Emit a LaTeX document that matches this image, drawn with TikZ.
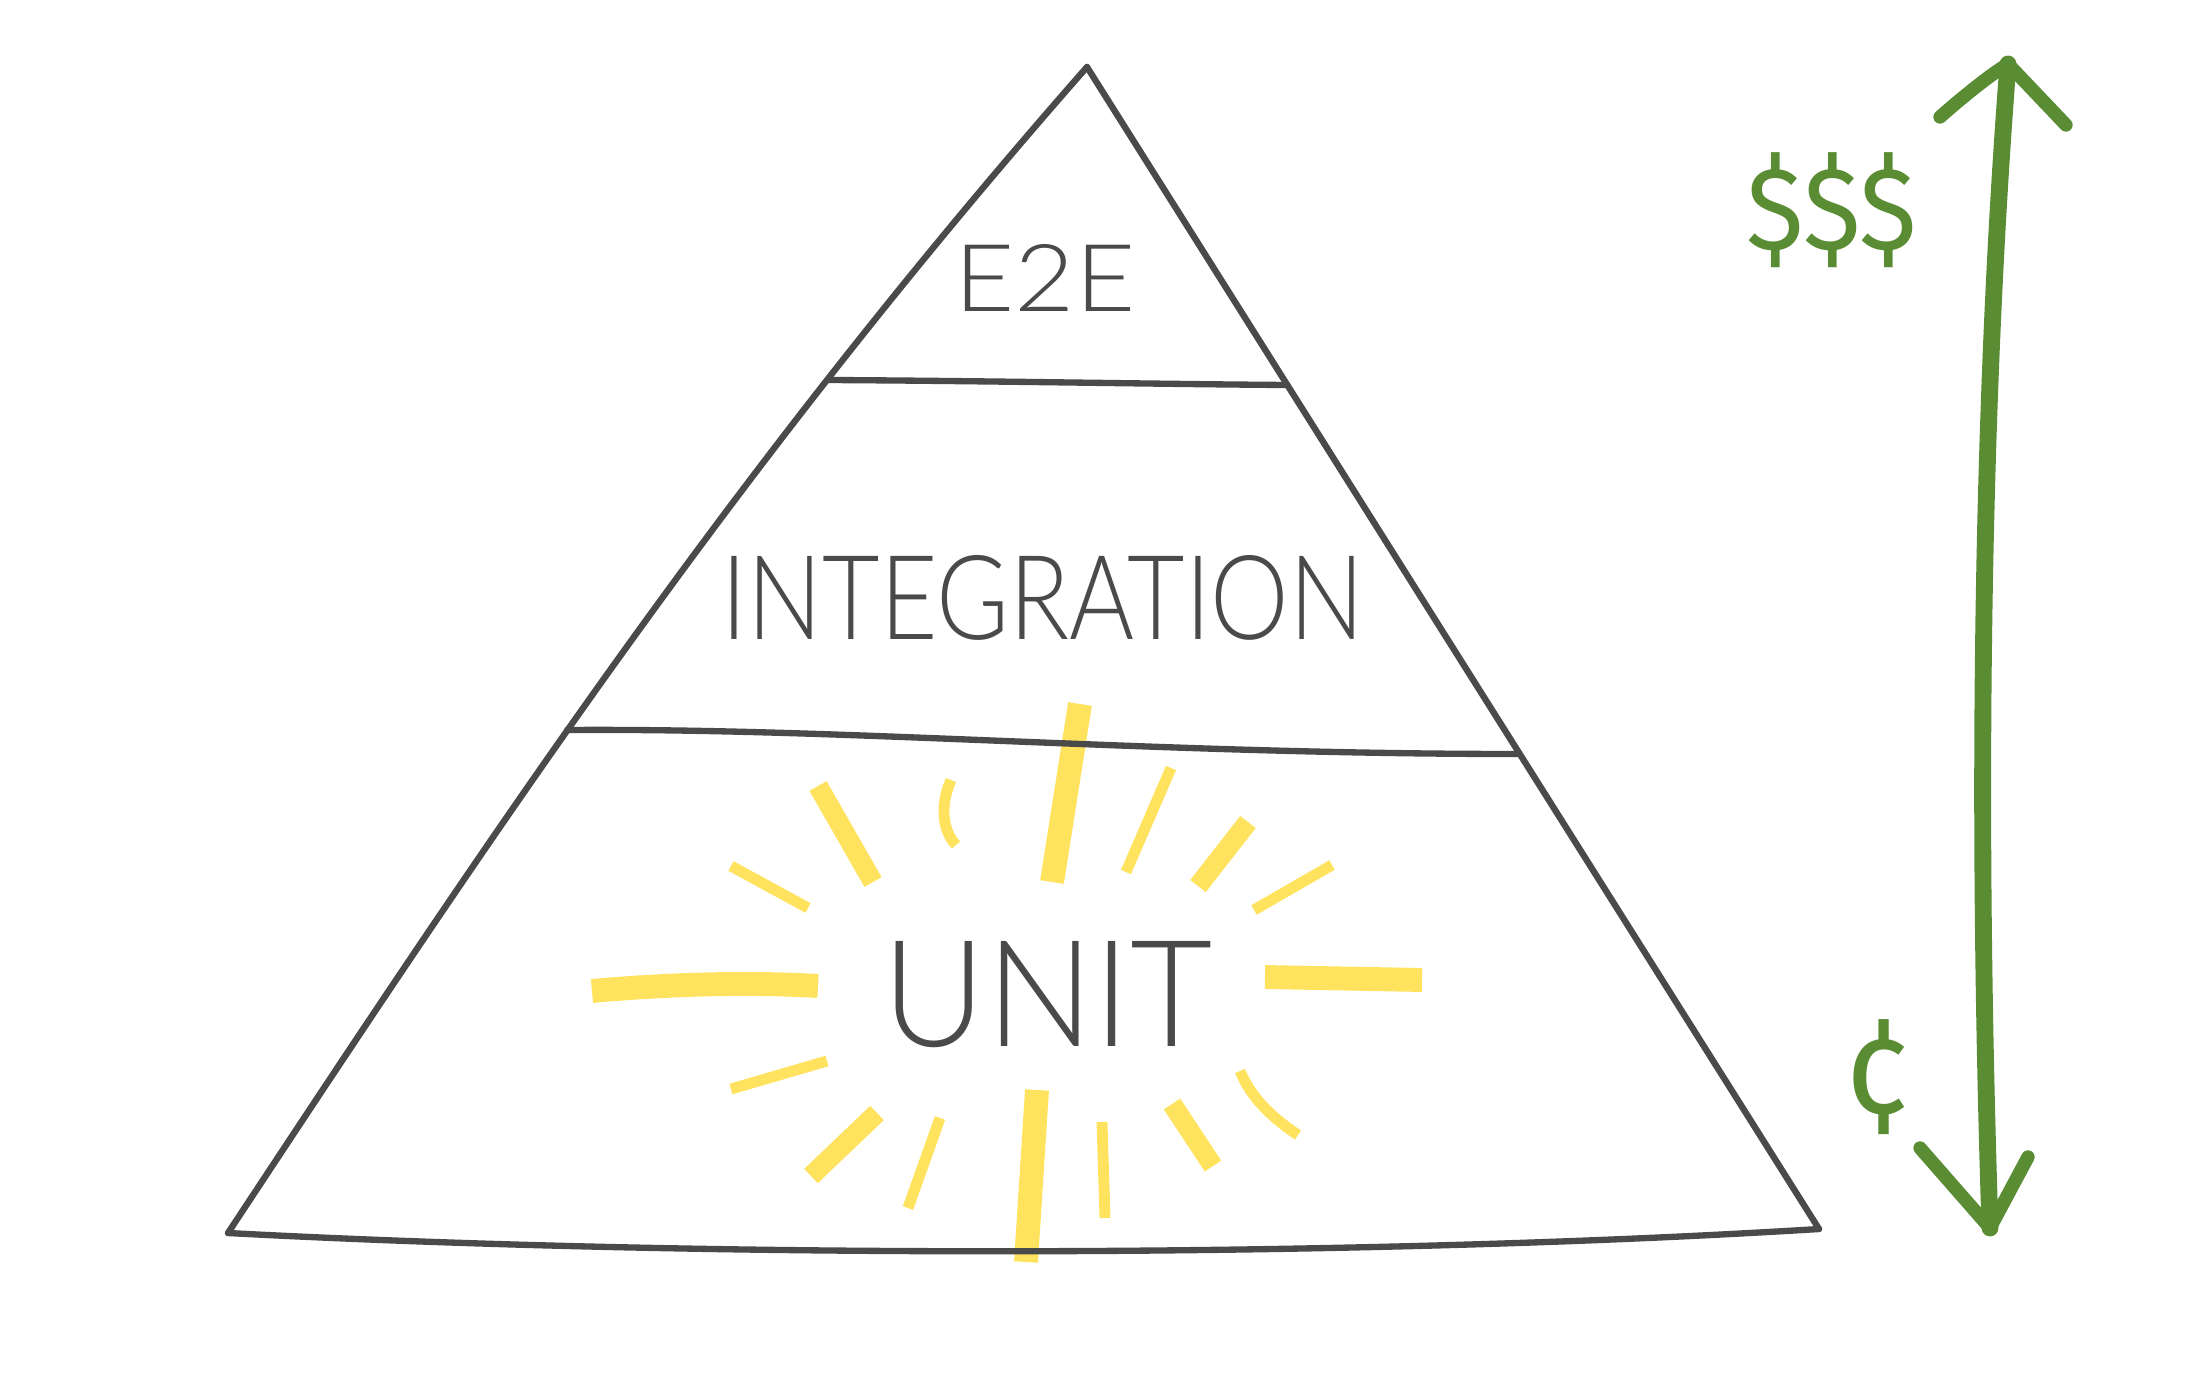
\documentclass[tikz,border=0pt]{standalone}
\usepackage{fontspec}
\usepackage{graphicx}
\IfFontExistsTF{Lato Light}
  {\newfontfamily\hand{Lato Light}}
  {\IfFontExistsTF{Open Sans Light}
    {\newfontfamily\hand{Open Sans Light}}
    {\newfontfamily\hand{Fira Sans}}}
\newfontfamily\coin{Fira Sans}
\definecolor{inkgray}{HTML}{4A4A4A}
\definecolor{sun}{HTML}{FFE35E}
\definecolor{leaf}{HTML}{5A8C33}
\begin{document}
\begin{tikzpicture}[x=0.01cm,y=-0.01cm,
  edge/.style={draw=inkgray, line width=1.8pt, line cap=round, line join=round},
  raywide/.style={draw=sun, line width=6.8pt},
  raymid/.style={draw=sun, line width=5.6pt},
  raythin/.style={draw=sun, line width=3.1pt},
  shaft/.style={draw=leaf, line width=4.8pt, line cap=round},
  barb/.style={draw=leaf, line width=3.8pt, line cap=round, line join=round},
  tier/.style={inner sep=0pt, text=inkgray, font=\hand},
  price/.style={inner sep=0pt, text=leaf, font=\coin}]
\useasboundingbox[fill=white] (0,0) rectangle (2193,1394);

% rays around the bottom label
\draw[raywide] (1080,704) -- (1052,882);
\draw[raymid]  (818,786) -- (873,882);
\draw[raythin] (951,780) .. controls (940,805) and (942,830) .. (956,845);
\draw[raythin] (1171,768) -- (1126,872);
\draw[raymid]  (1248,822) -- (1198,886);
\draw[raythin] (1332,865) -- (1254,910);
\draw[raythin] (731,866) -- (808,908);
\draw[raywide] (592,991) .. controls (670,984) and (750,982) .. (818,986);
\draw[raywide] (1265,977) -- (1422,980);
\draw[raythin] (731,1089) -- (827,1061);
\draw[raymid]  (877,1113) -- (811,1176);
\draw[raythin] (940,1118) -- (908,1208);
\draw[raywide] (1037,1090) -- (1026,1262);
\draw[raythin] (1102,1122) -- (1105,1218);
\draw[raymid]  (1172,1104) -- (1213,1166);
\draw[raythin] (1240,1071) .. controls (1250,1095) and (1268,1115) .. (1298,1135);

% pyramid outline and tiers
\coordinate (apex) at (1087,67);
\coordinate (bl) at (228,1233);
\coordinate (br) at (1819,1229);
\draw[edge] (apex) .. controls (735,467) and (492,833) .. (bl);
\draw[edge] (apex) -- (br);
\draw[edge] (bl) .. controls (700,1258) and (1350,1258) .. (br);
\draw[edge] (828,380) .. controls (1000,381) and (1150,384) .. (1287,385);
\draw[edge] (567,730) .. controls (850,728) and (1150,754) .. (1518,754);

% tier labels
\node[tier] (e2e) at (1045,278) {\resizebox{1.81cm}{0.67cm}{E2E}};
\node[tier] (integ) at (1043,598) {\resizebox{6.42cm}{0.84cm}{INTEGRATION}};
\node[tier] (unit) at (1048,995) {\resizebox{3.30cm}{1.05cm}{UNIT}};

% cost arrow
\coordinate (up) at (2008,64);
\coordinate (dn) at (1990,1228);
\draw[shaft] (up) .. controls (1982,400) and (1976,800) .. (dn);
\draw[barb] (1940,117) .. controls (1965,95) and (1990,75) .. (up) -- (2066,125);
\draw[barb] (1920,1148) -- (dn) -- (2028,1157);
\node[price] (high) at (1832,210) {\resizebox*{1.70cm}{1.15cm}{\$\$\$}};
\node[price] (low) at (1878,1077) {\resizebox*{0.62cm}{1.15cm}{¢}};
\end{tikzpicture}
\end{document}
